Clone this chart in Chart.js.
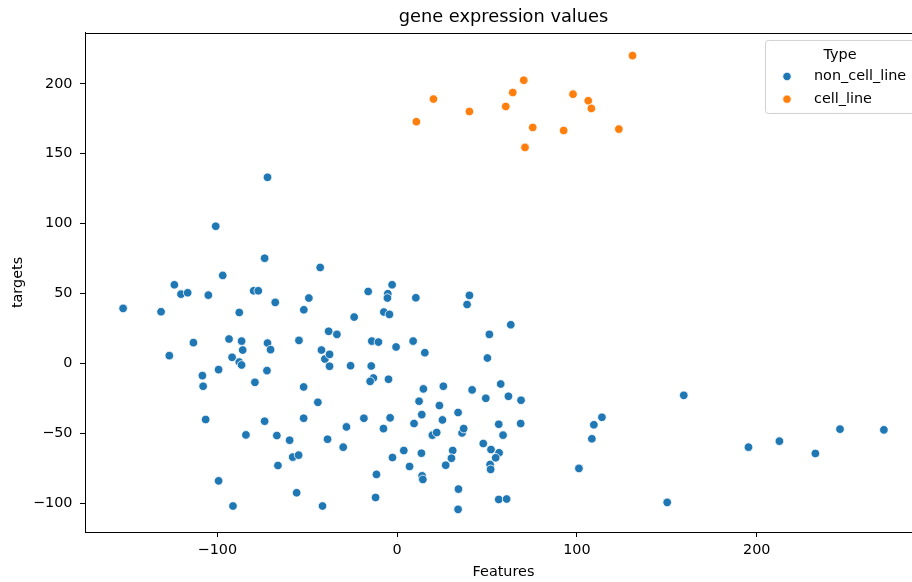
<!DOCTYPE html>
<html>
<head>
<meta charset="utf-8">
<script src="https://cdn.jsdelivr.net/npm/chart.js@4"></script>
<style>
  html, body { margin: 0; padding: 0; background: #fff; overflow: hidden; }
  canvas { display: block; }
</style>
</head>
<body>
<canvas id="chart" width="930" height="582"></canvas>
<script>
// values
const nonCellX = [
  -72.1, -100.9, -73.7, -97.0, -123.9, -120.2, -116.5, -105.0, -79.8, -77.2,
  -67.8, -152.4, -131.3, -87.8, -51.9, -113.3, -93.5, -86.5, -72.1, -54.6,
  -70.4, -126.7, -85.9, -91.8, -87.8, -86.5, -99.3, -72.4, -108.3, -107.9,
  -79.1, -52.0, -106.5, -73.7, -52.0, -84.1, -66.9, -59.8, -58.1, -54.8,
  -66.3, -99.3, -55.9, -91.3, -42.8, -49.1, -16.1, -2.8, -5.2, -5.4,
  10.4, 40.2, 38.9, -7.4, -4.3, -23.9, -38.1, -33.5, -14.1, -10.4,
  8.9, -0.6, 15.4, 51.3, 50.2, -42.1, -40.2, -37.6, -37.6, -25.9,
  -14.4, -13.2, -15.0, -4.8, 14.6, 25.7, 41.7, -44.1, -41.5, -38.7,
  -28.2, -30.0, -18.5, -3.9, -7.6, -11.5, -12.0, 3.7, -2.6, 6.9,
  13.5, 13.9, 14.3, 9.4, 13.7, 12.2, 23.5, 25.2, 19.6, 22.0,
  33.9, 36.1, 37.0, 49.3, 47.9, 30.9, 30.2, 27.0, 34.1, 33.9,
  63.2, 57.6, 61.9, 68.9, 56.5, 68.7, 58.9, 52.2, 56.7, 54.8,
  51.7, 52.0, 56.5, 60.9, 113.9, 109.4, 108.3, 101.1, 159.4, 150.2,
  195.4, 212.6, 232.6, 246.3, 270.7
];
const nonCellY = [
  133.1, 98.1, 75.2, 62.9, 56.2, 49.5, 50.5, 48.8, 51.9, 51.9,
  43.6, 39.3, 36.9, 36.4, 38.3, 14.8, 17.4, 15.9, 14.5, 16.4,
  9.8, 5.5, 9.5, 4.3, 0.9, -1.2, -4.5, -5.2, -8.8, -16.4,
  -13.6, -16.9, -40.2, -41.4, -39.3, -51.2, -51.7, -55.0, -67.1, -65.7,
  -73.1, -84.1, -92.6, -102.1, 68.6, 46.7, 51.4, 56.2, 49.8, 46.7,
  46.9, 48.6, 42.1, 36.7, 35.0, 33.1, 22.9, 20.7, 15.9, 15.2,
  15.9, 11.7, 7.6, 20.7, 3.8, 9.5, 3.1, 6.4, -2.1, -1.7,
  -1.9, -10.5, -12.9, -11.4, -18.3, -16.4, -19.0, -27.9, -102.1, -54.3,
  -45.5, -60.0, -39.3, -39.0, -46.7, -79.5, -96.0, -62.4, -67.4, -73.8,
  -64.3, -80.5, -83.1, -43.1, -36.7, -27.1, -30.2, -40.5, -51.4, -49.5,
  -35.2, -49.8, -46.7, -25.0, -57.4, -62.4, -67.9, -72.9, -90.0, -104.5,
  27.6, -14.8, -23.6, -26.4, -43.6, -43.1, -51.4, -61.7, -64.0, -67.6,
  -72.4, -75.9, -97.4, -97.1, -38.6, -44.0, -54.0, -75.2, -22.9, -99.5,
  -60.0, -55.7, -64.5, -47.1, -47.6
];
const cellX = [10.7, 20.2, 40.2, 60.4, 64.3, 70.4, 75.4, 71.1, 92.6, 97.8, 106.3, 108.0, 123.3, 130.9];
const cellY = [172.9, 189.1, 180.2, 183.8, 193.8, 202.6, 168.8, 154.5, 166.6, 192.6, 187.9, 182.4, 167.6, 220.2];

const xTicks = [-100, 0, 100, 200];
const yTicks = [-100, -50, 0, 50, 100, 150, 200];

const FONT = 'DejaVu Sans';
const FS = 14.4;
const BLUE = '#1f77b4';
const ORANGE = '#ff7f0e';

const toPoints = (xs, ys) => xs.map((x, i) => ({ x, y: ys[i] }));
const minus = v => String(v).replace('-', '\u2212');

// matplotlib-like frame + legend box inside the axes
const frameAndLegend = {
  id: 'frameAndLegend',
  afterDraw(chart) {
    const { ctx, chartArea: ca } = chart;
    ctx.save();
    ctx.strokeStyle = '#000';
    ctx.lineWidth = 1;
    ctx.strokeRect(Math.round(ca.left) + 0.5, Math.round(ca.top) + 0.5,
      Math.round(ca.right - ca.left), Math.round(ca.bottom - ca.top));

    const bw = 150, bh = 73;
    const bx = ca.right - 7 - bw, by = ca.top + 7;
    ctx.beginPath();
    ctx.roundRect(bx + 0.5, by + 0.5, bw, bh, 3);
    ctx.fillStyle = 'rgba(255,255,255,0.8)';
    ctx.fill();
    ctx.strokeStyle = '#d0d0d0';
    ctx.stroke();

    ctx.font = FS + 'px "' + FONT + '"';
    ctx.fillStyle = '#000';
    ctx.textBaseline = 'middle';
    ctx.textAlign = 'center';
    ctx.fillText('Type', bx + bw / 2, by + 15);

    ctx.textAlign = 'left';
    chart.data.datasets.forEach((ds, i) => {
      const cy = by + 36.5 + i * 22.7;
      ctx.beginPath();
      ctx.arc(bx + 22, cy, 4.2, 0, Math.PI * 2);
      ctx.fillStyle = ds.backgroundColor;
      ctx.fill();
      ctx.strokeStyle = '#fff';
      ctx.lineWidth = 0.8;
      ctx.stroke();
      ctx.fillStyle = '#000';
      ctx.fillText(ds.label, bx + 49, cy);
    });
    ctx.restore();
  }
};

new Chart(document.getElementById('chart'), {
  type: 'scatter',
  data: {
    datasets: [
      {
        label: 'non_cell_line',
        data: toPoints(nonCellX, nonCellY),
        backgroundColor: BLUE,
        borderColor: '#fff',
        borderWidth: 0.8,
        pointRadius: 4.3,
        order: 2
      },
      {
        label: 'cell_line',
        data: toPoints(cellX, cellY),
        backgroundColor: ORANGE,
        borderColor: '#fff',
        borderWidth: 0.8,
        pointRadius: 4.3,
        order: 1
      }
    ]
  },
  options: {
    responsive: false,
    animation: false,
    layout: { padding: { left: 0, right: 8, top: 0, bottom: 0 } },
    plugins: {
      legend: { display: false },
      tooltip: { enabled: false },
      title: {
        display: true,
        text: 'gene expression values',
        fullSize: false,
        color: '#000',
        font: { family: FONT, size: 17.8, weight: 'normal' },
        padding: { top: 6.3, bottom: 5.3 }
      }
    },
    scales: {
      x: {
        type: 'linear',
        min: -173.6,
        max: 291.9,
        afterFit: s => { s.height = 50; },
        afterBuildTicks: s => { s.ticks = xTicks.map(value => ({ value })); },
        grid: { drawOnChartArea: false, drawTicks: true, tickLength: 5, tickColor: '#000' },
        border: { display: true, color: '#000', width: 1 },
        ticks: {
          color: '#000',
          font: { family: FONT, size: FS },
          padding: 4.2,
          maxRotation: 0,
          autoSkip: false,
          callback: minus
        },
        title: {
          display: true,
          text: 'Features',
          color: '#000',
          font: { family: FONT, size: FS },
          padding: { top: 0, bottom: 1.4 }
        }
      },
      y: {
        type: 'linear',
        min: -120.7,
        max: 236.4,
        afterFit: s => { s.width = 85; },
        afterBuildTicks: s => { s.ticks = yTicks.map(value => ({ value })); },
        grid: { drawOnChartArea: false, drawTicks: true, tickLength: 5, tickColor: '#000' },
        border: { display: true, color: '#000', width: 1 },
        ticks: {
          color: '#000',
          font: { family: FONT, size: FS },
          padding: 7.5,
          autoSkip: false,
          callback: minus
        },
        title: {
          display: true,
          text: 'targets',
          color: '#000',
          font: { family: FONT, size: FS },
          padding: { top: 9.4, bottom: 0 }
        }
      }
    }
  },
  plugins: [frameAndLegend]
});
</script>
</body>
</html>
